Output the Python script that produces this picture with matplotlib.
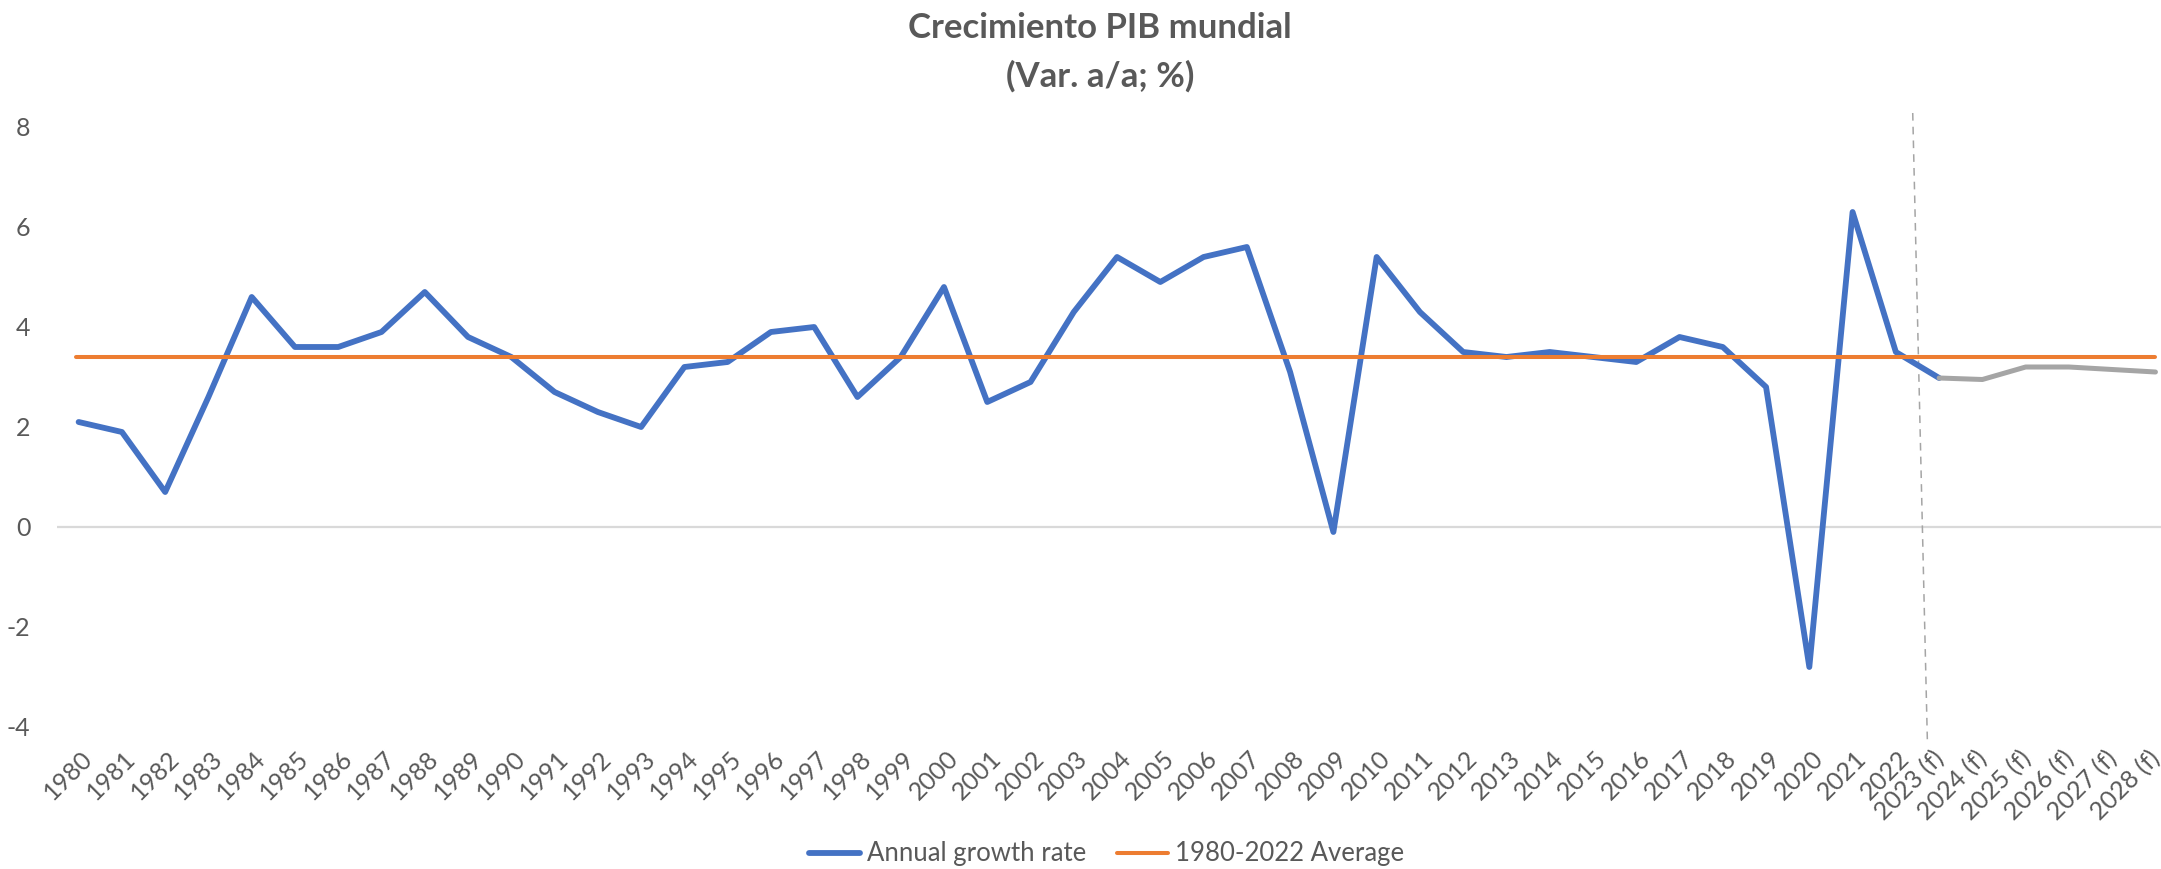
import matplotlib
matplotlib.use("Agg")
import matplotlib.pyplot as plt
import matplotlib.transforms as mtransforms

plt.rcParams["font.family"] = ["Lato", "DejaVu Sans"]

# data
years = [str(y) for y in range(1980, 2023)] + [f"{y} (f)" for y in range(2023, 2029)]
growth = [2.1, 1.9, 0.7, 2.6, 4.6, 3.6, 3.6, 3.9, 4.7, 3.8,
          3.4, 2.7, 2.3, 2.0, 3.2, 3.3, 3.9, 4.0, 2.6, 3.4,
          4.8, 2.5, 2.9, 4.3, 5.4, 4.9, 5.4, 5.6, 3.1, -0.1,
          5.4, 4.3, 3.5, 3.4, 3.5, 3.4, 3.3, 3.8, 3.6, 2.8,
          -2.8, 6.3, 3.5, 2.98]
forecast = [2.98, 2.95, 3.2, 3.2, 3.15, 3.1]
average = 3.4
yticks = [-4, -2, 0, 2, 4, 6, 8]

BLUE = "#4472C4"
ORANGE = "#ED7D31"
GREY = "#A5A5A5"
TXT = "#595959"

fig = plt.figure(figsize=(21.61, 8.69), dpi=100)
ax = fig.add_axes([57 / 2161, 142 / 869, 1 - 57 / 2161, 600 / 869])

x_hist = list(range(len(growth)))
x_fc = list(range(len(growth) - 1, len(years)))

ax.axhline(0, color="#D9D9D9", lw=1.6, zorder=1)
ax.plot(x_hist, growth, color=BLUE, lw=4.2, solid_capstyle="round",
        solid_joinstyle="round", label="Annual growth rate", zorder=3)
ax.plot(x_fc, forecast, color=GREY, lw=3.6, solid_capstyle="round",
        solid_joinstyle="round", zorder=3)
ax.plot([-0.05, len(years) - 1], [average, average], color=ORANGE, lw=2.9,
        solid_capstyle="round", label="1980-2022 Average", zorder=4)

# forecast separator (slightly slanted in the original)
ax.plot([42.39, 42.73], [8.28, -4.34], color=GREY, lw=1.1, ls=(0, (5, 4)),
        clip_on=False, zorder=2)

ax.set_xlim(-0.5, (2161 - 78.5) / 43.27)
ax.set_ylim(-4, 8)
ax.set_yticks(yticks)
ax.set_yticklabels([str(v) for v in yticks])
ax.set_xticks(range(len(years)))
ax.set_xticklabels(years, rotation=45, ha="right", va="top",
                   rotation_mode="anchor")
ax.tick_params(axis="both", length=0, colors=TXT, labelsize=18)
ax.tick_params(axis="x", pad=14)
ax.tick_params(axis="y", pad=19)
for lab in ax.get_xticklabels():
    dx = -7 if "(f)" in lab.get_text() else 2
    lab.set_transform(lab.get_transform() +
                      mtransforms.ScaledTranslation(dx / 100, 0, fig.dpi_scale_trans))
for s in ax.spines.values():
    s.set_visible(False)
ax.patch.set_alpha(0)

fig.text(0.509, 1 - 28 / 869, "Crecimiento PIB mundial", ha="center", va="center",
         fontsize=25, fontweight="bold", color=TXT)
fig.text(0.509, 1 - 76 / 869, "(Var. a/a; %)", ha="center", va="center",
         fontsize=25, fontweight="bold", color=TXT)

leg = fig.legend(loc="center", bbox_to_anchor=(0.512, 1 - 854 / 869), ncol=2,
                 frameon=False, fontsize=18.5, handlelength=2.0, handletextpad=0.25,
                 columnspacing=1.2, borderaxespad=0, borderpad=0)
for t in leg.get_texts():
    t.set_color(TXT)
for h in leg.get_lines():
    h.set_solid_capstyle("round")

fig.savefig("out.png", dpi=100)
